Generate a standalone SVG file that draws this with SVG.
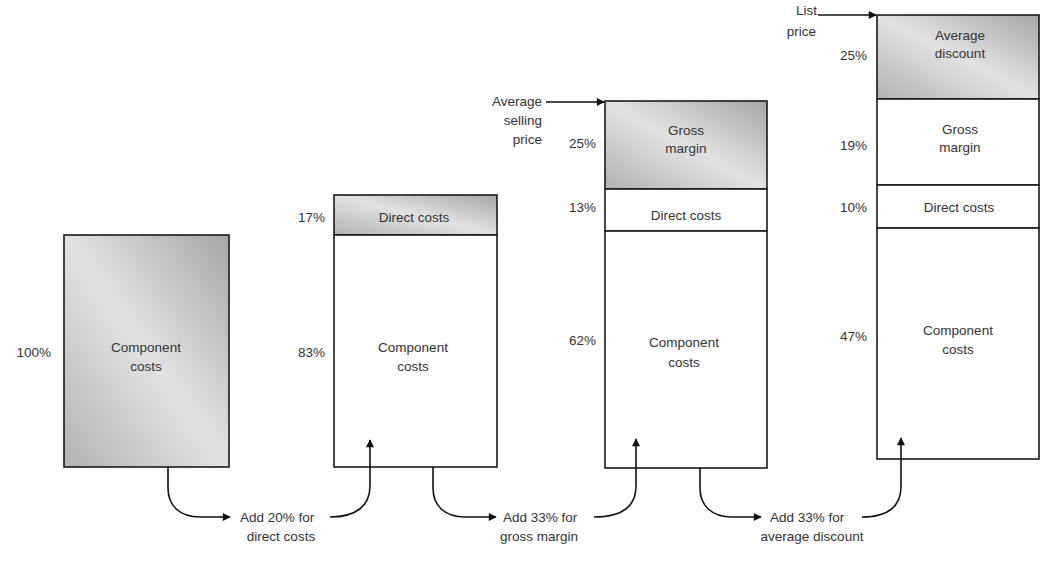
<svg xmlns="http://www.w3.org/2000/svg" width="1043" height="562" viewBox="0 0 1043 562">
<defs>
<linearGradient id="metal" x1="0" y1="1" x2="1" y2="0">
<stop offset="0" stop-color="#b2b2b2"/>
<stop offset="0.5" stop-color="#e2e2e2"/>
<stop offset="1" stop-color="#a6a6a6"/>
</linearGradient>
<marker id="ah" viewBox="0 0 10 10" refX="9" refY="5" markerWidth="9" markerHeight="8" markerUnits="userSpaceOnUse" orient="auto">
<path d="M0,0 L10,5 L0,10 z" fill="#111"/>
</marker>
<style>
.box{fill:#fff;stroke:#1a1a1a;stroke-width:1.6}
.shade{fill:url(#metal);stroke:#1a1a1a;stroke-width:1.6}
text{font-family:"Liberation Sans",Arial,sans-serif;font-size:13.5px;fill:#333}
.c{text-anchor:middle}
.r{text-anchor:end}
.con{fill:none;stroke:#111;stroke-width:1.6}
</style>
</defs>
<rect width="1043" height="562" fill="#fff"/>

<g id="bar1">
<rect class="shade" x="64" y="235" width="165" height="232"/>
<text class="c" x="146" y="352">Component</text>
<text class="c" x="146" y="371">costs</text>
<text class="r" x="51" y="357">100%</text>
</g>

<g id="bar2">
<rect class="shade" x="334" y="195" width="163" height="40"/>
<rect class="box" x="334" y="235" width="163" height="232"/>
<text class="c" x="414" y="222">Direct costs</text>
<text class="c" x="413" y="352">Component</text>
<text class="c" x="413" y="371">costs</text>
<text class="r" x="325" y="222">17%</text>
<text class="r" x="325" y="357">83%</text>
</g>

<g id="bar3">
<rect class="shade" x="605" y="101" width="162" height="88"/>
<rect class="box" x="605" y="189" width="162" height="42"/>
<rect class="box" x="605" y="231" width="162" height="237"/>
<text class="c" x="686" y="135">Gross</text>
<text class="c" x="686" y="153">margin</text>
<text class="c" x="686" y="220">Direct costs</text>
<text class="c" x="684" y="347">Component</text>
<text class="c" x="684" y="367">costs</text>
<text class="r" x="596" y="148">25%</text>
<text class="r" x="596" y="212">13%</text>
<text class="r" x="596" y="345">62%</text>
<text class="r" x="542" y="106">Average</text>
<text class="r" x="542" y="125">selling</text>
<text class="r" x="542" y="144">price</text>
</g>

<g id="bar4">
<rect class="shade" x="877" y="15" width="162" height="84"/>
<rect class="box" x="877" y="99" width="162" height="86"/>
<rect class="box" x="877" y="185" width="162" height="43"/>
<rect class="box" x="877" y="228" width="162" height="231"/>
<text class="c" x="960" y="40">Average</text>
<text class="c" x="960" y="58">discount</text>
<text class="c" x="960" y="134">Gross</text>
<text class="c" x="960" y="152">margin</text>
<text class="c" x="959" y="212">Direct costs</text>
<text class="c" x="958" y="335">Component</text>
<text class="c" x="958" y="354">costs</text>
<text class="r" x="867" y="60">25%</text>
<text class="r" x="867" y="150">19%</text>
<text class="r" x="867" y="212">10%</text>
<text class="r" x="867" y="341">47%</text>
<text class="r" x="817" y="15">List</text>
<text class="r" x="816" y="36">price</text>
</g>

<g id="step-labels">
<text x="240" y="522">Add 20% for</text>
<text class="c" x="281" y="541">direct costs</text>
<text x="503" y="522">Add 33% for</text>
<text class="c" x="539" y="541">gross margin</text>
<text x="770" y="522">Add 33% for</text>
<text class="c" x="812" y="541">average discount</text>
</g>

<g id="connectors">
<path class="con" marker-end="url(#ah)" d="M168,467 L168,488 C168,506 180,517 200,517 L230,517"/>
<path class="con" marker-end="url(#ah)" d="M330,517 C356,517 370,506 370,486 L370,440"/>
<path class="con" marker-end="url(#ah)" d="M433,467 L433,488 C433,506 445,517 465,517 L496,517"/>
<path class="con" marker-end="url(#ah)" d="M594,517 C622,517 636,506 636,486 L636,439"/>
<path class="con" marker-end="url(#ah)" d="M700,468 L700,488 C700,506 712,517 732,517 L761,517"/>
<path class="con" marker-end="url(#ah)" d="M862,517 C888,517 901,506 901,486 L901,438"/>
<path class="con" marker-end="url(#ah)" d="M546,102 L604,102"/>
<path class="con" marker-end="url(#ah)" d="M818,15 L876,15"/>
</g>
</svg>
